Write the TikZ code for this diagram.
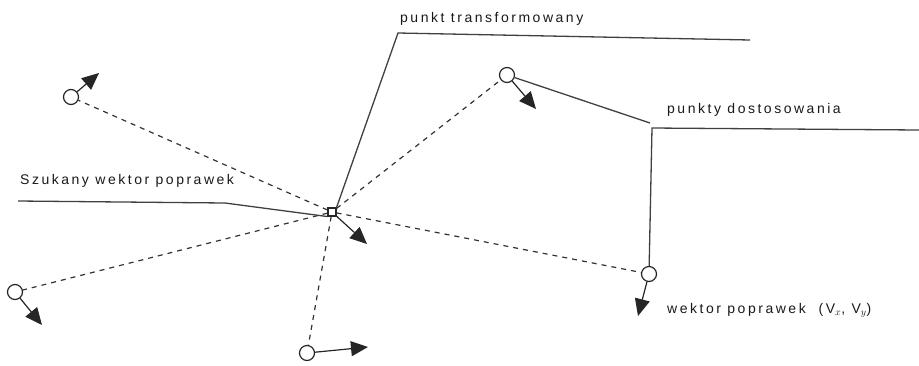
\documentclass[tikz,border=0pt]{standalone}
\usepackage{fontspec}
\setmainfont{Liberation Sans}[LetterSpace=18]
\usetikzlibrary{arrows.meta}
\begin{document}
\begin{tikzpicture}[x=1pt,y=-1pt,
  pt/.style={draw=black!85,circle,line width=1.2pt,minimum size=15pt,inner sep=0pt},
  ctr/.style={draw=black!85,rectangle,line width=1.1pt,minimum size=8pt,inner sep=0pt},
  dsh/.style={draw=black!80,line width=1.2pt,dash pattern=on 5pt off 5pt},
  vec/.style={draw=black!85,line width=1.2pt,-{Triangle[length=17pt,width=15pt]}},
  lead/.style={draw=black!75,line width=1.3pt},
  lbl/.style={anchor=base west,inner sep=0pt,font=\fontsize{14}{16}\selectfont,text=black!90}]
\useasboundingbox (0,0) rectangle (919,365);
% points
\node[ctr] (c) at (332,212) {};
\node[pt] (p1) at (71,97) {};
\node[pt] (p2) at (507,75) {};
\node[pt] (p3) at (649,274) {};
\node[pt] (p4) at (15,292) {};
\node[pt] (p5) at (307,353) {};
% arrow tips
\coordinate (t0) at (367,244);
\coordinate (t1) at (99,73);
\coordinate (t2) at (536,109);
\coordinate (t3) at (638,316);
\coordinate (t4) at (42,325);
\coordinate (t5) at (368,347);
% dashed
\foreach \p in {p1,p2,p3,p4,p5} \draw[dsh] (c) -- (\p);
% vectors
\draw[vec] (c) -- (t0);
\draw[vec] (p1) -- (t1);
\draw[vec] (p2) -- (t2);
\draw[vec] (p3) -- (t3);
\draw[vec] (p4) -- (t4);
\draw[vec] (p5) -- (t5);
% label leaders
\coordinate (a1) at (398,33);
\coordinate (a2) at (750,40);
\draw[lead] (c.north east) -- (a1) -- (a2);
\coordinate (b1) at (652,128);
\coordinate (b2) at (919,130);
\coordinate (b0) at (650,123);
\draw[lead] (p2) -- (b0);
\draw[lead] (p3) -- (b1) -- (b2);
\coordinate (s1) at (18,201);
\coordinate (s2) at (225,203);
\draw[lead] (s1) -- (s2) -- (c.south west);
% labels
\node[lbl] (l1) at (400,22) {punkt transformowany};
\node[lbl] (l2) at (667,113) {punkty dostosowania};
\node[lbl] (l3) at (20,184) {Szukany wektor poprawek};
\node[lbl] (l4) at (667,313) {wektor poprawek\ \ (V$_x$, V$_y$)};
\end{tikzpicture}
\end{document}
